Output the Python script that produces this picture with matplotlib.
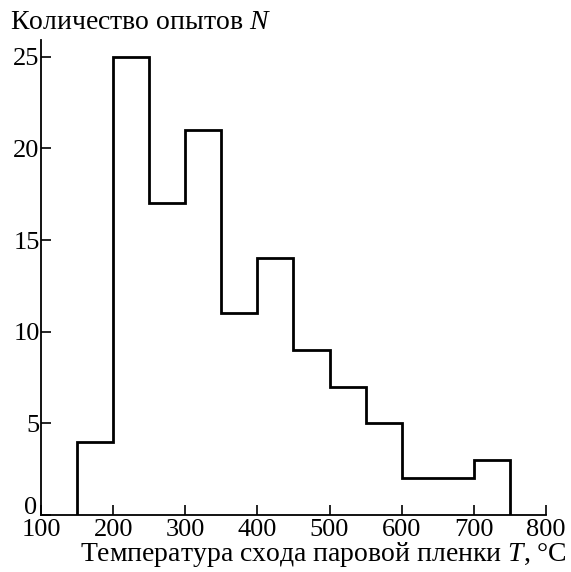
import matplotlib.pyplot as plt
import matplotlib.transforms as mtransforms

plt.rcParams['font.family'] = ['Liberation Serif', 'DejaVu Serif']
plt.rcParams['mathtext.fontset'] = 'custom'
plt.rcParams['mathtext.rm'] = 'Liberation Serif'
plt.rcParams['mathtext.it'] = 'Liberation Serif:italic'

# границы интервалов температуры и число опытов в каждом
bin_edges = [150, 200, 250, 300, 350, 400, 450, 500, 550, 600, 650, 700, 750]
counts = [4, 25, 17, 21, 11, 14, 9, 7, 5, 2, 2, 3]

x_ticks = [100, 200, 300, 400, 500, 600, 700, 800]
y_ticks = [0, 5, 10, 15, 20, 25]

fig = plt.figure(figsize=(5.71, 5.72), dpi=100)
ax = fig.add_axes([0.072, 0.0997, 0.884, 0.83])

ax.stairs(counts, bin_edges, baseline=0, color='black', linewidth=2.0)

ax.set_xlim(100, 800)
ax.set_ylim(0, 25.9)
ax.set_xticks(x_ticks)
ax.set_yticks(y_ticks)
ax.tick_params(direction='in', length=7, width=1.2, labelsize=19)
ax.tick_params(axis='x', pad=3)
ax.tick_params(axis='y', pad=1)

# подпись «0» приподнята, чтобы не налезать на «100»
zero_label = ax.get_yticklabels()[0]
zero_label.set_transform(zero_label.get_transform() +
                         mtransforms.ScaledTranslation(-2 / 72, 7 / 72, fig.dpi_scale_trans))

ax.spines['top'].set_visible(False)
ax.spines['right'].set_visible(False)
ax.spines['left'].set_linewidth(1.3)
ax.spines['bottom'].set_linewidth(1.3)

fig.text(0.018, 0.96, 'Количество опытов $N$', fontsize=20, va='center', ha='left')
fig.text(0.993, 0.006, 'Температура схода паровой пленки $T$, °C', fontsize=20,
         va='bottom', ha='right')

fig.savefig('out.png', dpi=100)
